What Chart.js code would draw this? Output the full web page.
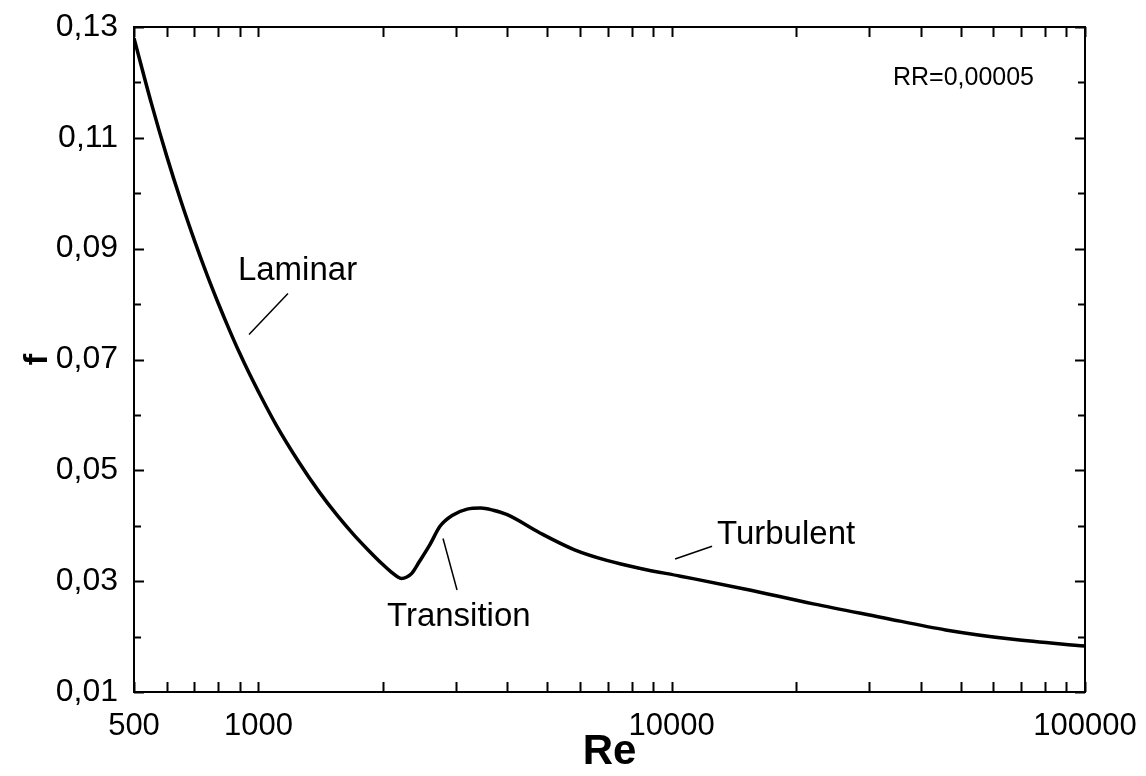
<!DOCTYPE html>
<html>
<head>
<meta charset="utf-8">
<script src="https://cdn.jsdelivr.net/npm/chart.js@4/dist/chart.umd.min.js"></script>
<style>
  html, body { margin: 0; padding: 0; background: #fff; }
  #wrap { width: 1146px; height: 776px; }
</style>
</head>
<body>
<div id="wrap"><canvas id="c" width="1146" height="776"></canvas></div>
<script>
// Friction factor f against Reynolds number Re, relative roughness 0.00005
const reynolds = [500, 550, 600, 650, 700, 750, 800, 850, 900, 950, 1000, 1100, 1250, 1400, 1550,
  1700, 1850, 2000, 2100, 2170, 2220, 2280, 2350, 2450, 2600, 2750, 2950, 3200, 3450, 3700, 4000,
  4800, 5800, 7000, 8400, 10500, 15000, 22000, 32000, 46000, 67000, 100000];
const friction = [0.128, 0.1164, 0.1067, 0.0985, 0.0915, 0.0854, 0.0801, 0.0754, 0.0712, 0.0675,
  0.0642, 0.0584, 0.0516, 0.0462, 0.0419, 0.0384, 0.0355, 0.0330, 0.0316, 0.0308, 0.0305, 0.0307,
  0.0314, 0.0335, 0.0366, 0.0399, 0.0419, 0.0430, 0.0432, 0.0428, 0.0420, 0.0387, 0.0357, 0.0337,
  0.0323, 0.0309, 0.0286, 0.0259, 0.0235, 0.0212, 0.0195, 0.0183];

const xTickValues = [500, 600, 700, 800, 900, 1000, 2000, 3000, 4000, 5000, 6000, 7000, 8000, 9000,
  10000, 20000, 30000, 40000, 50000, 60000, 70000, 80000, 90000, 100000];
const xTickLabels = [500, 1000, 10000, 100000];
const yTickValues = [0.01, 0.02, 0.03, 0.04, 0.05, 0.06, 0.07, 0.08, 0.09, 0.10, 0.11, 0.12, 0.13];
const yTickLabels = [0.01, 0.03, 0.05, 0.07, 0.09, 0.11, 0.13];

// Text notes, anchored in data coordinates (Re, f)
const notes = [
  { text: 'Laminar',    at: [892, 0.0860],   leader: [[1179, 0.0819], [949, 0.0745]] },
  { text: 'Transition', at: [2047, 0.0235],  leader: [[2797, 0.0377], [3024, 0.0284]] },
  { text: 'Turbulent',  at: [12870, 0.0383], leader: [[10190, 0.0340], [12520, 0.0363]] },
  { text: 'RR=0,00005', at: [34300, 0.1208], small: true }
];

const FONT = "'Liberation Sans', Arial, Helvetica, sans-serif";
const isLabeled = (list, v) => list.some(t => Math.abs(t - v) < 1e-9);

const frameAndNotes = {
  id: 'frameAndNotes',
  afterDatasetsDraw(chart) {
    const { ctx, chartArea: a, scales: { x, y } } = chart;
    ctx.save();
    ctx.strokeStyle = '#000';
    ctx.lineWidth = 2;
    ctx.strokeRect(a.left, a.top, a.right - a.left, a.bottom - a.top);

    // inward ticks on all four sides
    ctx.beginPath();
    xTickValues.forEach(v => {
      const px = Math.round(x.getPixelForValue(v)) + 0.5;
      ctx.moveTo(px, a.bottom); ctx.lineTo(px, a.bottom - 10);
      ctx.moveTo(px, a.top);    ctx.lineTo(px, a.top + 10);
    });
    yTickValues.forEach(v => {
      const py = Math.round(y.getPixelForValue(v)) + 0.5;
      const len = isLabeled(yTickLabels, v) ? 10 : 7;
      ctx.moveTo(a.left, py);  ctx.lineTo(a.left + len, py);
      ctx.moveTo(a.right, py); ctx.lineTo(a.right - len, py);
    });
    ctx.stroke();

    // notes and their leader lines
    ctx.fillStyle = '#000';
    ctx.textAlign = 'left';
    ctx.textBaseline = 'middle';
    notes.forEach(n => {
      ctx.font = (n.small ? '25px ' : '33px ') + FONT;
      ctx.fillText(n.text, x.getPixelForValue(n.at[0]), y.getPixelForValue(n.at[1]));
      if (n.leader) {
        ctx.lineWidth = 1.5;
        ctx.beginPath();
        ctx.moveTo(x.getPixelForValue(n.leader[0][0]), y.getPixelForValue(n.leader[0][1]));
        ctx.lineTo(x.getPixelForValue(n.leader[1][0]), y.getPixelForValue(n.leader[1][1]));
        ctx.stroke();
      }
    });
    ctx.restore();
  }
};

new Chart(document.getElementById('c'), {
  type: 'line',
  data: {
    datasets: [{
      data: reynolds.map((r, i) => ({ x: r, y: friction[i] })),
      borderColor: '#000',
      borderWidth: 3.5,
      pointRadius: 0,
      cubicInterpolationMode: 'monotone',
      fill: false
    }]
  },
  options: {
    responsive: false,
    animation: false,
    devicePixelRatio: 1,
    layout: { padding: { top: 27, right: 61, left: 0, bottom: 0 } },
    plugins: { legend: { display: false }, tooltip: { enabled: false } },
    scales: {
      x: {
        type: 'logarithmic',
        min: 500,
        max: 100000,
        afterBuildTicks: s => { s.ticks = xTickValues.map(v => ({ value: v })); },
        afterFit: s => { s.height = 84; s.paddingLeft = 0; s.paddingRight = 0; },
        grid: { display: false },
        border: { display: false },
        ticks: {
          autoSkip: false,
          maxRotation: 0,
          padding: 8,
          color: '#000',
          font: { family: FONT, size: 31 },
          callback: v => isLabeled(xTickLabels, v) ? String(v) : ''
        },
        title: {
          display: true,
          text: 'Re',
          color: '#000',
          font: { family: FONT, size: 42, weight: 'bold', lineHeight: 1.1 },
          padding: { top: 0, bottom: 0 }
        }
      },
      y: {
        type: 'linear',
        min: 0.01,
        max: 0.13,
        afterBuildTicks: s => { s.ticks = yTickValues.map(v => ({ value: v })); },
        afterFit: s => { s.width = 134; s.paddingTop = 0; s.paddingBottom = 0; },
        grid: { display: false },
        border: { display: false },
        ticks: {
          autoSkip: false,
          padding: 8,
          color: '#000',
          font: { family: FONT, size: 32 },
          callback: v => isLabeled(yTickLabels, v) ? v.toFixed(2).replace('.', ',') : ''
        },
        title: {
          display: true,
          text: 'f',
          color: '#000',
          font: { family: FONT, size: 34, weight: 'bold', lineHeight: 1.2 },
          padding: { top: 17, bottom: 0 }
        }
      }
    }
  },
  plugins: [frameAndNotes]
});
</script>
</body>
</html>
